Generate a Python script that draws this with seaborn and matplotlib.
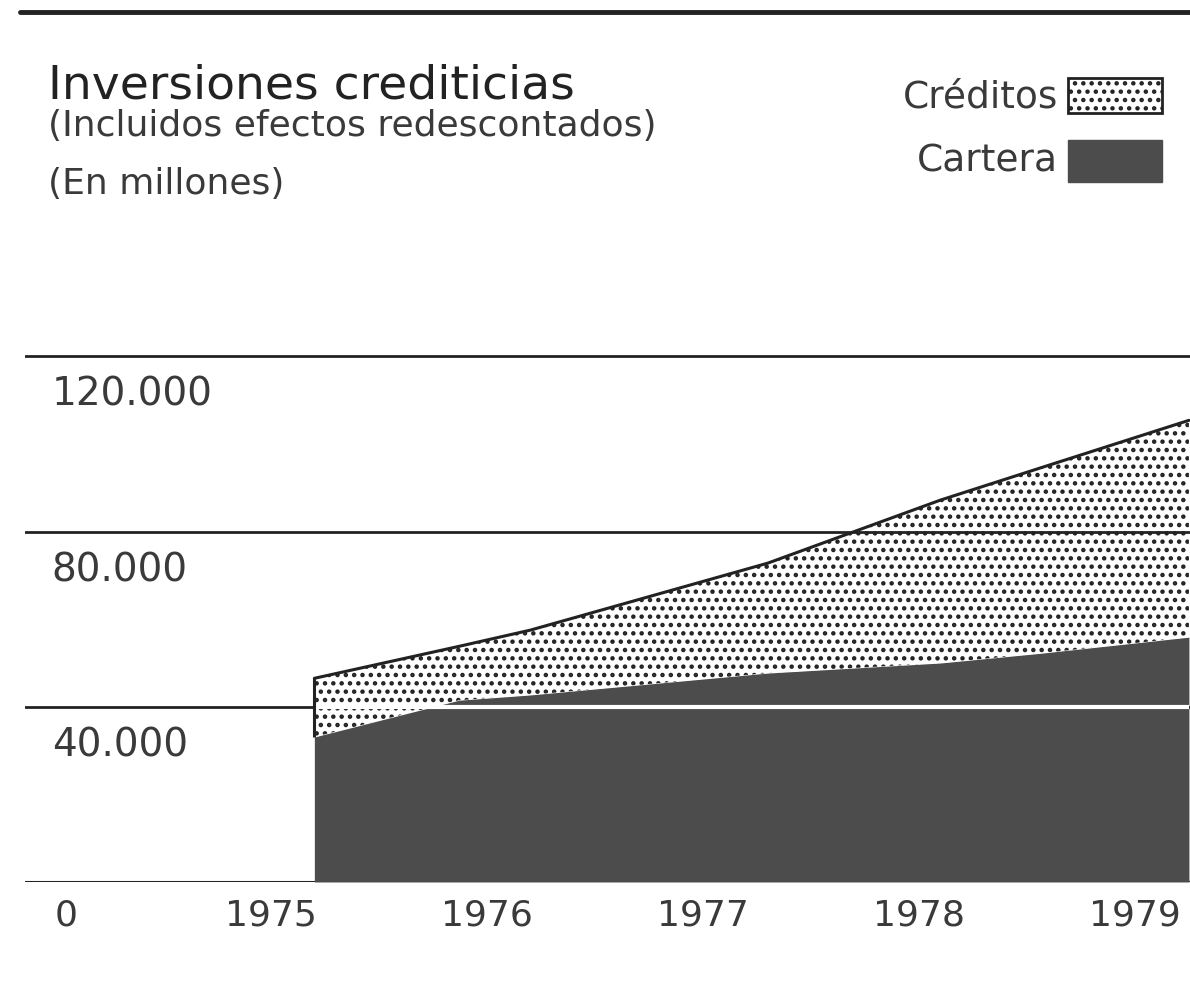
import numpy as np
import pandas as pd
import matplotlib
matplotlib.use('agg')
import matplotlib.pyplot as plt
from matplotlib.patches import Rectangle
from matplotlib.lines import Line2D
import seaborn as sns

# data (millones)
years = [1975.2, 1975.87, 1976.2, 1977.3, 1978.1, 1978.56, 1979.25]
cartera = [33100, 41500, 42700, 47700, 50000, 52200, 55900]
creditos = [13400, 12300, 14800, 25100, 37200, 42300, 49500]

year_ticks = [1975, 1976, 1977, 1978, 1979]
y_ticks = [40000, 80000, 120000]
y_labels = ["40.000", "80.000", "120.000"]

title = "Inversiones crediticias"
subtitle_1 = "(Incluidos efectos redescontados)"
subtitle_2 = "(En millones)"

sns.set_theme(style="white")
plt.rcParams['font.family'] = ['DejaVu Sans']
plt.rcParams['hatch.linewidth'] = 2.0

ink = "#222222"
text_col = "#3a3a3a"
dark = "#4c4c4c"

df = pd.DataFrame({"year": years, "cartera": cartera, "creditos": creditos})
df["total"] = df["cartera"] + df["creditos"]

fig = plt.figure(figsize=(11.9, 9.92), dpi=100)
ax = fig.add_axes([0.021, 0.1109, 0.979, 0.574])
ax.set_xlim(1973.86, 1979.255)
ax.set_ylim(0, 130000)

# gridlines + baseline
ax.axhline(0, color=ink, lw=2.2, zorder=1)
for yt in y_ticks:
    ax.axhline(yt, color=ink, lw=2.0, zorder=1 if yt == y_ticks[0] else 4)

# stacked areas
ax.fill_between(df["year"], 0, df["cartera"], color=dark, lw=0, zorder=2)
ax.fill_between(df["year"], df["cartera"], df["total"], facecolor="white",
                edgecolor=ink, hatch="..", lw=0, zorder=2)
# printed white line over the dark area at 40.000
ax.hlines(y_ticks[0], df["year"].iloc[0], df["year"].iloc[-1], color="white", lw=3, zorder=3)

sns.lineplot(data=df, x="year", y="total", color=ink, lw=2.2, ax=ax, zorder=5)
ax.vlines(df["year"].iloc[0], df["cartera"].iloc[0], df["total"].iloc[0], color=ink, lw=2.2, zorder=5)

# axes cosmetics
for s in ax.spines.values():
    s.set_visible(False)
ax.set_xlabel("")
ax.set_ylabel("")
ax.set_yticks([])
ax.set_xticks(year_ticks)
ax.set_xticklabels([str(y) for y in year_ticks])
ax.tick_params(axis="x", length=0, pad=12, labelsize=26, labelcolor=text_col)

ax.annotate("0", xy=(0.035, 0), xycoords=("axes fraction", "data"), xytext=(0, -12),
            textcoords="offset points", ha="center", va="top", fontsize=26, color=text_col)
for yt, lab in zip(y_ticks, y_labels):
    ax.annotate(lab, xy=(0.023, yt), xycoords=("axes fraction", "data"), xytext=(0, -14),
                textcoords="offset points", ha="left", va="top", fontsize=28, color=text_col)

# title block
fig.text(0.040, 0.913, title, fontsize=34, color=ink, va="center", ha="left")
fig.text(0.040, 0.873, subtitle_1, fontsize=26, color=text_col, va="center", ha="left")
fig.text(0.040, 0.815, subtitle_2, fontsize=26, color=text_col, va="center", ha="left")

# top rule
fig.add_artist(Line2D([20 / 1190, 1.0], [1 - 12 / 992, 1 - 12 / 992], color=ink, lw=3.5,
                      transform=fig.transFigure))

# legend
fig.text(1058 / 1190, 1 - 97 / 992, "Créditos", fontsize=27, color=text_col, ha="right", va="center")
fig.text(1058 / 1190, 1 - 161 / 992, "Cartera", fontsize=27, color=text_col, ha="right", va="center")
fig.add_artist(Rectangle((1068 / 1190, 1 - 113 / 992), 94 / 1190, 35 / 992, transform=fig.transFigure,
                         facecolor="white", edgecolor=ink, hatch="..", lw=2))
fig.add_artist(Rectangle((1068 / 1190, 1 - 182 / 992), 94 / 1190, 42 / 992, transform=fig.transFigure,
                         facecolor=dark, edgecolor=dark, lw=1))

fig.savefig("out.png", dpi=100)
